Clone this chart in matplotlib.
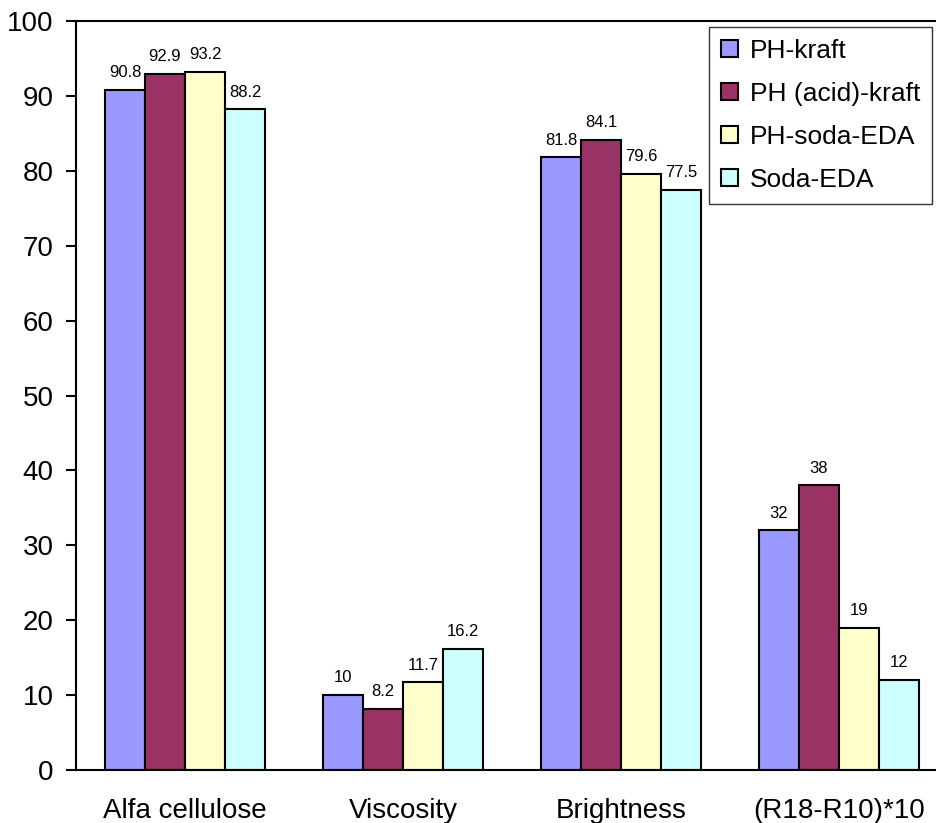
import matplotlib.pyplot as plt
import numpy as np

plt.rcParams['font.family'] = ['Liberation Sans', 'DejaVu Sans']

categories = ['Alfa cellulose', 'Viscosity', 'Brightness', '(R18-R10)*10']
series_names = ['PH-kraft', 'PH (acid)-kraft', 'PH-soda-EDA', 'Soda-EDA']
ph_kraft = [90.8, 10, 81.8, 32]
ph_acid_kraft = [92.9, 8.2, 84.1, 38]
ph_soda_eda = [93.2, 11.7, 79.6, 19]
soda_eda = [88.2, 16.2, 77.5, 12]
colors = ['#9999FF', '#993366', '#FFFFCC', '#CCFFFF']

series = [ph_kraft, ph_acid_kraft, ph_soda_eda, soda_eda]

fig = plt.figure(figsize=(9.36, 8.23), dpi=100)
# axes run past the right edge of the figure
ax = fig.add_axes([76 / 936, 1 - 770 / 823, 872 / 936, 749 / 823])

x = np.arange(len(categories))
width = 0.1835
for i, (vals, name, c) in enumerate(zip(series, series_names, colors)):
    pos = x + (i - 1.5) * width
    bars = ax.bar(pos, vals, width, color=c, edgecolor='black', linewidth=1.5, label=name)
    for b, v in zip(bars, vals):
        ax.annotate(f'{v:g}', (b.get_x() + b.get_width() / 2, v),
                    xytext=(0, 7), textcoords='offset points',
                    ha='center', va='bottom', fontsize=12)

ax.set_xlim(-0.5, len(categories) - 0.5)
ax.set_ylim(0, 100)
ax.set_yticks(range(0, 101, 10))
ax.set_xticks(x)
ax.set_xticklabels(categories, fontsize=20)
ax.tick_params(axis='x', length=0, pad=20)
ax.tick_params(axis='y', direction='out', length=7, width=1.5, labelsize=20, pad=9)
for s in ax.spines.values():
    s.set_linewidth(1.5)

leg = fig.legend(loc='upper right', bbox_to_anchor=(932 / 936, 1 - 27 / 823),
                 fontsize=19, frameon=True, fancybox=False, edgecolor='black',
                 handlelength=0.65, handleheight=0.65, handletextpad=0.45,
                 labelspacing=0.72, borderpad=0.45, borderaxespad=0)
leg.get_frame().set_linewidth(1.0)
for h in leg.legend_handles:
    h.set_linewidth(1.5)

fig.savefig('out.png', dpi=100)
